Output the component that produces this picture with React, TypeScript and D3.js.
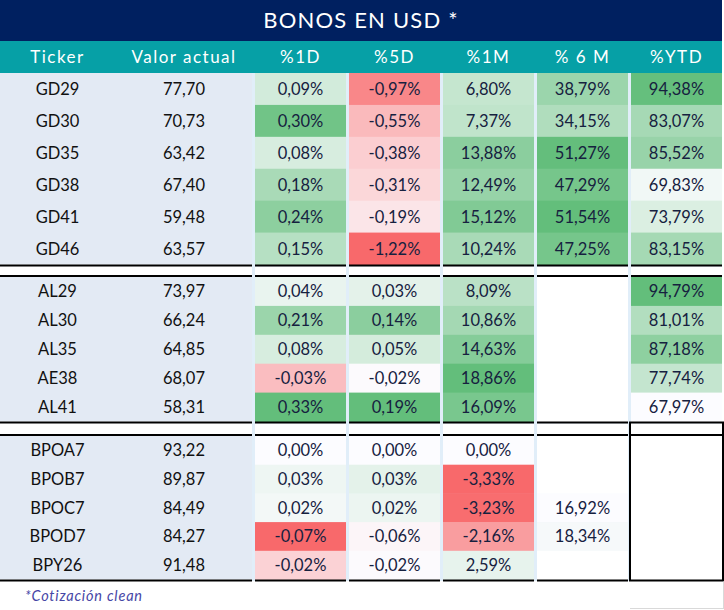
import React from "react";
import * as d3 from "d3";

// ---------- DATA ----------
const title = "BONOS EN USD *";
const footnote = "*Cotización clean";
const headerLabels = ["Ticker", "Valor actual", "%1D", "%5D", "%1M", "% 6 M", "%YTD"];
const pctColumns = ["%1D", "%5D", "%1M", "% 6 M", "%YTD"];

const sectionGD = ["GD29", "GD30", "GD35", "GD38", "GD41", "GD46"];
const sectionAL = ["AL29", "AL30", "AL35", "AE38", "AL41"];
const sectionBP = ["BPOA7", "BPOB7", "BPOC7", "BPOD7", "BPY26"];

const valorActual = [77.70, 70.73, 63.42, 67.40, 59.48, 63.57, 73.97, 66.24, 64.85, 68.07, 58.31, 93.22, 89.87, 84.49, 84.27, 91.48];
const pct1D = [0.09, 0.30, 0.08, 0.18, 0.24, 0.15, 0.04, 0.21, 0.08, -0.03, 0.33, 0.00, 0.03, 0.02, -0.07, -0.02];
const pct5D = [-0.97, -0.55, -0.38, -0.31, -0.19, -1.22, 0.03, 0.14, 0.05, -0.02, 0.19, 0.00, 0.03, 0.02, -0.06, -0.02];
const pct1M = [6.80, 7.37, 13.88, 12.49, 15.12, 10.24, 8.09, 10.86, 14.63, 18.86, 16.09, 0.00, -3.33, -3.23, -2.16, 2.59];
const pct6M: (number | null)[] = [38.79, 34.15, 51.27, 47.29, 51.54, 47.25, null, null, null, null, null, null, null, 16.92, 18.34, null];
const pctYTD: (number | null)[] = [94.38, 83.07, 85.52, 69.83, 73.79, 83.15, 94.79, 81.01, 87.18, 77.74, 67.97, null, null, null, null, null];

// ---------- STYLE / LAYOUT ----------
const W = 724, H = 610;
const TABLE_R = 722;
const NAVY = "#002060";
const TEAL = "#06A0A6";
const LEFT_BG = "#E3EAF4";
const SEP = "#E1EEF9";
const RED = "#F8696B", WHITE = "#FCFCFF", GREEN = "#63BE7B";
const FONT = "Lato, 'Noto Sans', sans-serif";

const sections = [
  { tickers: sectionGD, y0: 73, y1: 264.5, topLine: null as number | null, botLine: 265.5 },
  { tickers: sectionAL, y0: 277, y1: 421.5, topLine: 276, botLine: 422.5 },
  { tickers: sectionBP, y0: 436, y1: 579.5, topLine: 435, botLine: 580.5 },
];

const pctSeries = [pct1D, pct5D, pct1M, pct6M, pctYTD];

const locale = d3.formatLocale({ decimal: ",", thousands: ".", grouping: [3], currency: ["", "$"], minus: "-" });
const fmt = locale.format(".2f");

function colorScaleFor(vals: (number | null)[]) {
  const v = vals.filter((d): d is number => d !== null);
  const lo = d3.min(v) as number;
  const hi = d3.max(v) as number;
  if (lo < 0) {
    return d3.scaleLinear<string>().domain([lo, 0, hi]).range([RED, WHITE, GREEN]).interpolate(d3.interpolateRgb).clamp(true);
  }
  return d3.scaleLinear<string>().domain([lo, hi]).range([WHITE, GREEN]).interpolate(d3.interpolateRgb).clamp(true);
}

export default function App() {
  const xPct = d3.scaleBand<string>().domain(pctColumns).range([252, TABLE_R]);
  const gap = 3;
  const colorScales = pctSeries.map(colorScaleFor);
  const allTickers = [...sectionGD, ...sectionAL, ...sectionBP];
  const tickerX = 57.5;
  const valorX = 184;

  const segs: [number, number][] = [[0, 252], ...pctColumns.map((c) => [(xPct(c) as number) + gap, (xPct(c) as number) + xPct.step()] as [number, number])];

  const headerX = [tickerX, valorX, ...pctColumns.map((c) => (xPct(c) as number) + gap + (xPct.step() - gap) / 2)];

  let offset = 0;
  const rowsEls: React.ReactNode[] = [];
  const lineEls: React.ReactNode[] = [];
  sections.forEach((sec, si) => {
    const y = d3.scaleBand<string>().domain(sec.tickers).range([sec.y0, sec.y1]);
    const start = offset;
    rowsEls.push(<rect key={`lb${si}`} x={0} y={sec.y0} width={252} height={sec.y1 - sec.y0} fill={LEFT_BG} />);
    sec.tickers.forEach((t, i) => {
      const idx = start + i;
      const yy = y(t) as number;
      const cy = yy + y.bandwidth() / 2;
      rowsEls.push(
        <g key={`r${idx}`}>
          <text x={tickerX} y={cy} textAnchor="middle" dominantBaseline="central" fontSize={16.5} fill="#111" fontFamily={FONT}>{allTickers[idx]}</text>
          <text x={valorX} y={cy} textAnchor="middle" dominantBaseline="central" fontSize={16.5} fill="#111" fontFamily={FONT}>{fmt(valorActual[idx])}</text>
          {pctColumns.map((c, ci) => {
            const v = pctSeries[ci][idx];
            const x0 = (xPct(c) as number) + gap;
            const w = xPct.step() - gap;
            return (
              <g key={c}>
                <rect x={x0} y={yy} width={w} height={y.bandwidth() + 0.5} fill={v === null ? "#FFFFFF" : colorScales[ci](v)} />
                {v !== null && (
                  <text x={x0 + w / 2} y={cy} textAnchor="middle" dominantBaseline="central" fontSize={16.5} fill="#16213F" fontFamily={FONT}>{fmt(v) + "%"}</text>
                )}
              </g>
            );
          })}
        </g>
      );
    });
    offset += sec.tickers.length;
    [sec.topLine, sec.botLine].forEach((ly, li) => {
      if (ly === null) return;
      segs.forEach(([a, b], k) => {
        lineEls.push(<line key={`l${si}-${li}-${k}`} x1={a} x2={b} y1={ly} y2={ly} stroke="#000" strokeWidth={2} />);
      });
    });
  });

  const ytdX = xPct("%YTD") as number;

  return (
    <svg width={W} height={H} style={{ position: "absolute", left: 0, top: 0, background: "#fff" }}>
      <rect x={0} y={0} width={W} height={H} fill="#fff" />
      {/* title */}
      <rect x={0} y={0} width={TABLE_R} height={41} fill={NAVY} />
      <text x={TABLE_R / 2} y={28} textAnchor="middle" fontSize={22} fill="#fff" fontFamily={FONT} letterSpacing={1.2}>{title}</text>
      {/* header */}
      <rect x={0} y={41} width={TABLE_R} height={32} fill={TEAL} />
      {headerLabels.map((h, i) => (
        <text key={h} x={headerX[i]} y={63} textAnchor="middle" fontSize={17} fill="#fff" fontFamily={FONT} letterSpacing={1.5}>{h}</text>
      ))}
      {/* separators background */}
      <rect x={252} y={73} width={TABLE_R - 252} height={508} fill={SEP} />
      {pctColumns.map((c) => (
        <g key={`gap${c}`}>
          <rect x={(xPct(c) as number) + gap} y={266.5} width={xPct.step() - gap} height={9} fill="#fff" />
          <rect x={(xPct(c) as number) + gap} y={423.5} width={xPct.step() - gap} height={11} fill="#fff" />
        </g>
      ))}
      {rowsEls}
      {lineEls}
      {/* box around empty YTD of last section */}
      <line x1={ytdX + 2} x2={ytdX + 2} y1={421.5} y2={581.5} stroke="#000" strokeWidth={2} />
      <line x1={TABLE_R + 1} x2={TABLE_R + 1} y1={421.5} y2={581.5} stroke="#000" strokeWidth={2} />
      <line x1={723.5} x2={723.5} y1={581.5} y2={609} stroke="#D9D9D9" strokeWidth={1} />
      <line x1={ytdX + 2} x2={724} y1={608.5} y2={608.5} stroke="#D9D9D9" strokeWidth={1} />
      {/* footnote */}
      <text x={25} y={601} fontSize={14.5} fontStyle="italic" fill="#4646A6" fontFamily={FONT} letterSpacing={0.8}>{footnote}</text>
    </svg>
  );
}
